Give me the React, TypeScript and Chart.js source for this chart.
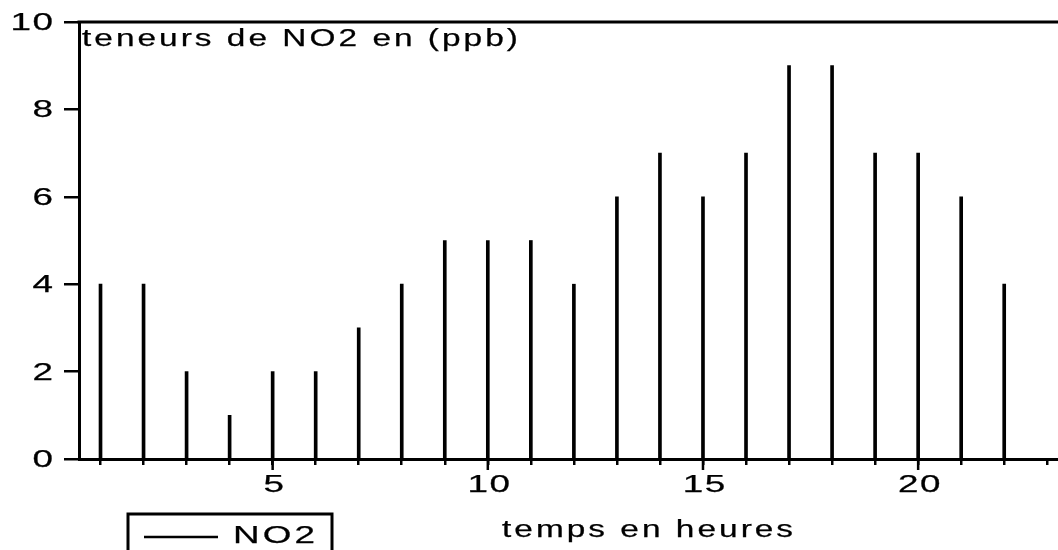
import React, { useEffect, useRef } from "react";
import { Chart, registerables } from "chart.js";

Chart.register(...registerables);

const hours = [1, 2, 3, 4, 5, 6, 7, 8, 9, 10, 11, 12, 13, 14, 15, 16, 17, 18, 19, 20, 21, 22];
const no2 = [4, 4, 2, 1, 2, 2, 3, 4, 5, 5, 5, 4, 6, 7, 6, 7, 9, 9, 7, 7, 6, 4];
const xTickValues = [1, 2, 3, 4, 5, 6, 7, 8, 9, 10, 11, 12, 13, 14, 15, 16, 17, 18, 19, 20, 21, 22, 23];
const xLabelValues = [5, 10, 15, 20];
const yLabelValues = [0, 2, 4, 6, 8, 10];
const chartTitle = "teneurs de NO2 en (ppb)";
const xTitle = "temps en heures";
const seriesName = "NO2";

const FONT = '23px "Liberation Sans", Arial, sans-serif';

function drawStretched(
  ctx: CanvasRenderingContext2D,
  text: string,
  x: number,
  y: number,
  align: "left" | "center" | "right",
  sx = 1.45,
  spacing = 2.1
) {
  ctx.save();
  ctx.font = FONT;
  (ctx as any).letterSpacing = spacing + "px";
  ctx.textAlign = "left";
  ctx.textBaseline = "alphabetic";
  const w = ctx.measureText(text).width;
  const ink = (w - spacing) * sx;
  let start = x;
  if (align === "center") start = x - ink / 2;
  else if (align === "right") start = x - ink;
  ctx.translate(start, y);
  ctx.scale(sx, 1);
  ctx.fillStyle = "#000";
  ctx.strokeStyle = "#000";
  ctx.lineWidth = 0.25;
  ctx.fillText(text, 0, 0);
  ctx.strokeText(text, 0, 0);
  ctx.restore();
}

const decorPlugin = {
  id: "decor",
  afterDraw(chart: any) {
    const ctx: CanvasRenderingContext2D = chart.ctx;
    const area = chart.chartArea;
    const xs = chart.scales.x;
    const ys = chart.scales.y;
    ctx.save();
    ctx.strokeStyle = "#000";
    ctx.lineCap = "butt";
    ctx.lineWidth = 3;
    ctx.beginPath();
    ctx.moveTo(area.left - 1.5, area.top);
    ctx.lineTo(area.right, area.top);
    ctx.stroke();
    ctx.lineWidth = 2.5;
    for (const v of xLabelValues) {
      const px = xs.getPixelForValue(v);
      ctx.beginPath();
      ctx.moveTo(px, area.bottom);
      ctx.lineTo(px, area.bottom + 11);
      ctx.stroke();
    }
    ctx.restore();

    for (const v of yLabelValues) {
      const py = ys.getPixelForValue(v);
      drawStretched(ctx, String(v), 53, py + 8, "right", 1.6, 1);
    }
    for (const v of xLabelValues) {
      const px = xs.getPixelForValue(v);
      drawStretched(ctx, String(v), px + 1, 492, "center", 1.6, 1);
    }
    drawStretched(ctx, chartTitle, 82, 46, "left");
    drawStretched(ctx, xTitle, 502, 537, "left");

    ctx.save();
    ctx.strokeStyle = "#000";
    ctx.lineWidth = 3;
    ctx.strokeRect(128, 514, 204, 60);
    ctx.lineWidth = 2.5;
    ctx.beginPath();
    ctx.moveTo(144, 537);
    ctx.lineTo(218, 537);
    ctx.stroke();
    ctx.restore();
    drawStretched(ctx, seriesName, 233, 543, "left", 1.6, 2);
  },
};

export default function App() {
  const ref = useRef<HTMLCanvasElement | null>(null);

  useEffect(() => {
    if (!ref.current) return;
    const chart = new Chart(ref.current, {
      type: "bar",
      data: {
        datasets: [
          {
            label: seriesName,
            data: hours.map((h, i) => ({ x: h, y: no2[i] })),
            backgroundColor: "#000",
            borderWidth: 0,
            barThickness: 3,
          },
        ],
      },
      options: {
        responsive: false,
        animation: false,
        events: [],
        layout: { padding: { top: 22, left: 0, right: 0, bottom: 0 } },
        plugins: {
          legend: { display: false },
          title: { display: false },
          tooltip: { enabled: false },
        },
        scales: {
          x: {
            type: "linear",
            position: "bottom",
            min: 0.5,
            max: 23.25,
            offset: false,
            afterBuildTicks: (scale: any) => {
              scale.ticks = xTickValues.map((v) => ({ value: v }));
            },
            afterFit: (scale: any) => {
              scale.height = 91;
            },
            ticks: { display: false, autoSkip: false },
            grid: {
              offset: false,
              drawOnChartArea: false,
              drawTicks: true,
              tickLength: 6,
              color: "#000",
              lineWidth: 2.5,
            },
            border: { display: true, color: "#000", width: 3 },
          },
          y: {
            type: "linear",
            position: "left",
            min: 0,
            max: 10,
            afterBuildTicks: (scale: any) => {
              scale.ticks = yLabelValues.map((v) => ({ value: v }));
            },
            afterFit: (scale: any) => {
              scale.width = 79;
            },
            ticks: { display: false, stepSize: 2 },
            grid: {
              drawOnChartArea: false,
              drawTicks: true,
              tickLength: 15,
              color: "#000",
              lineWidth: 2.5,
            },
            border: { display: true, color: "#000", width: 3 },
          },
        },
      } as any,
      plugins: [decorPlugin],
    });
    return () => chart.destroy();
  }, []);

  return (
    <div
      style={{
        position: "fixed",
        left: 0,
        top: 0,
        width: 1058,
        height: 550,
        background: "#fff",
        overflow: "hidden",
      }}
    >
      <canvas ref={ref} width={1058} height={550} style={{ display: "block" }} />
    </div>
  );
}
